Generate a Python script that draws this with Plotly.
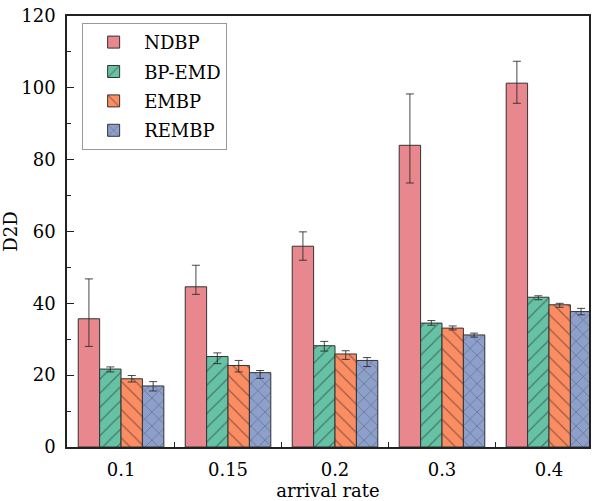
import plotly.graph_objects as go

# arrival rates (categories)
rates = ["0.1", "0.15", "0.2", "0.3", "0.4"]

# mean D2D per method, with upper / lower error extents
ndbp = [35.7, 44.6, 55.9, 84.0, 101.3]
ndbp_up = [11.1, 6.0, 4.0, 14.3, 6.1]
ndbp_dn = [7.7, 2.1, 3.9, 10.5, 5.6]

bpemd = [21.7, 25.2, 28.2, 34.5, 41.7]
bpemd_up = [0.6, 1.0, 1.2, 0.7, 0.4]
bpemd_dn = [0.8, 2.0, 1.5, 0.6, 0.7]

embp = [19.0, 22.7, 25.9, 33.1, 39.6]
embp_up = [0.9, 1.4, 0.9, 0.6, 0.4]
embp_dn = [0.9, 1.8, 1.5, 0.5, 0.7]

rembp = [17.0, 20.7, 24.1, 31.2, 37.7]
rembp_up = [1.2, 0.6, 0.8, 0.5, 0.9]
rembp_dn = [1.4, 1.6, 1.7, 0.6, 0.9]

series = [
    ("NDBP", ndbp, ndbp_up, ndbp_dn, "#E8878E", ""),
    ("BP-EMD", bpemd, bpemd_up, bpemd_dn, "#66C2A5", "/"),
    ("EMBP", embp, embp_up, embp_dn, "#FC8D62", "\\"),
    ("REMBP", rembp, rembp_up, rembp_dn, "#8DA0CB", "x"),
]

FONT = "DejaVu Serif"

fig = go.Figure()
for name, vals, up, dn, color, shape in series:
    fig.add_trace(go.Bar(
        name=name,
        legendgroup=name,
        x=rates,
        y=vals,
        marker=dict(
            color=color,
            line=dict(color="#333333", width=1),
            pattern=dict(shape=shape, fgcolor="#2a2a2a", bgcolor=color,
                         size=10, solidity=0.12),
        ),
        error_y=dict(type="data", symmetric=False, array=up, arrayminus=dn,
                     color="rgba(40,40,40,0.85)", thickness=1, width=4),
    ))

fig.update_layout(
    width=601, height=501,
    margin=dict(l=67, r=12, t=16, b=54),
    paper_bgcolor="white", plot_bgcolor="white",
    barmode="group", bargap=0.2, bargroupgap=0,
    font=dict(family=FONT, size=18, color="black"),
    showlegend=True,
    legend=dict(
        x=0.029, y=0.984, xanchor="left", yanchor="top",
        bordercolor="#999999", borderwidth=1, bgcolor="white",
        font=dict(family=FONT, size=18, color="black"),
        tracegroupgap=3, itemwidth=51,
    ),
)

fig.update_xaxes(
    type="category", range=[-0.505, 4.374], automargin=False,
    showline=True, linecolor="#222222", linewidth=1.5, mirror=True,
    ticks="inside", tickson="boundaries", ticklen=5, tickcolor="#222222",
    ticklabelstandoff=6,
    title=dict(text="arrival rate", font=dict(family=FONT, size=18), standoff=0),
    showgrid=False, zeroline=False,
)
fig.update_yaxes(
    range=[0, 120], dtick=20, automargin=False,
    showline=True, linecolor="#222222", linewidth=1.5, mirror=True,
    ticks="inside", ticklen=7, tickcolor="#222222",
    minor=dict(ticks="inside", dtick=10, ticklen=4, tickcolor="#222222"),
    ticklabelstandoff=6,
    title=dict(text="D2D", font=dict(family=FONT, size=18), standoff=0),
    showgrid=False, zeroline=False,
)

fig.write_html("out.html")
